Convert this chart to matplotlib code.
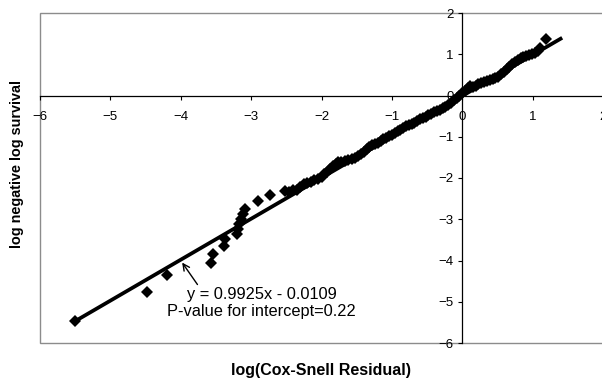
import numpy as np
import matplotlib
matplotlib.use("Agg")
import matplotlib.pyplot as plt
from matplotlib.patches import Rectangle

plt.rcParams['font.family'] = ['Liberation Sans', 'DejaVu Sans']

# residual points: log(Cox-Snell residual), log(-log S)
res_x = [-5.50, -4.48, -4.19, -3.57, -3.54, -3.38, -3.37, -3.20, -3.18, -3.17,
         -3.15, -3.12, -3.08, -2.90, -2.73, -2.52, -2.46,
         -2.40, -2.35, -2.30, -2.25, -2.20, -2.15, -2.10, -2.05, -2.00, -1.96,
         -1.92, -1.88, -1.84, -1.80, -1.76, -1.72, -1.67, -1.62, -1.57, -1.52,
         -1.48, -1.44, -1.40, -1.36, -1.32, -1.28, -1.24, -1.20, -1.16, -1.12,
         -1.08, -1.04, -1.00, -0.96, -0.92, -0.88, -0.84, -0.80, -0.76, -0.72,
         -0.68, -0.64, -0.60, -0.56, -0.52, -0.48, -0.44, -0.40, -0.36, -0.32,
         -0.28, -0.24, -0.20, -0.16, -0.12, -0.08, -0.04, 0.00, 0.04, 0.08,
         0.11, 0.15, 0.19, 0.23, 0.27, 0.31, 0.35, 0.39, 0.43, 0.47,
         0.51, 0.55, 0.59, 0.63, 0.67, 0.71, 0.75, 0.79, 0.83, 0.87,
         0.91, 0.95, 0.99, 1.03, 1.07, 1.11, 1.19]
res_y = [-5.46, -4.77, -4.35, -4.07, -3.84, -3.65, -3.49, -3.36, -3.24, -3.12,
         -3.00, -2.88, -2.76, -2.55, -2.41, -2.31, -2.33,
         -2.30, -2.28, -2.22, -2.15, -2.12, -2.09, -2.05, -2.02, -1.97, -1.91,
         -1.85, -1.78, -1.72, -1.66, -1.62, -1.60, -1.58, -1.57, -1.55, -1.52,
         -1.47, -1.41, -1.36, -1.30, -1.24, -1.20, -1.17, -1.14, -1.10, -1.06,
         -1.02, -0.99, -0.95, -0.91, -0.87, -0.83, -0.79, -0.75, -0.72, -0.69,
         -0.66, -0.62, -0.58, -0.55, -0.51, -0.47, -0.44, -0.41, -0.38, -0.35,
         -0.31, -0.27, -0.22, -0.17, -0.12, -0.06, 0.00, 0.05, 0.10, 0.17,
         0.22, 0.20, 0.24, 0.27, 0.30, 0.33, 0.35, 0.37, 0.39, 0.42,
         0.46, 0.52, 0.58, 0.64, 0.70, 0.76, 0.81, 0.86, 0.90, 0.94,
         0.96, 0.98, 1.00, 1.04, 1.08, 1.15, 1.37]

# fitted line
slope = 0.9925
intercept = -0.0109
fit_x = [-5.50, 1.42]

x_ticks = [-6, -5, -4, -3, -2, -1, 0, 1, 2]
y_ticks = [-6, -5, -4, -3, -2, -1, 0, 1, 2]

fig = plt.figure(figsize=(6.02, 3.81), dpi=100)
ax = fig.add_axes([40 / 602, 38 / 381, 563 / 602, 330 / 381])

ax.plot(res_x, res_y, linestyle='none', marker='D', markersize=6.3,
        color='black', markeredgewidth=0)
fx = np.array(fit_x)
ax.plot(fx, slope * fx + intercept, color='black', linewidth=2.7,
        solid_capstyle='butt')

ax.set_xlim(-6, 2)
ax.set_ylim(-6, 2)
ax.set_xticks(x_ticks)
ax.set_yticks(y_ticks)

# Excel style axes crossing at the origin
ax.spines['left'].set_position(('data', 0))
ax.spines['bottom'].set_position(('data', 0))
ax.spines['top'].set_visible(False)
ax.spines['right'].set_visible(False)
for s in ('left', 'bottom'):
    ax.spines[s].set_linewidth(0.9)
    ax.spines[s].set_color('black')
ax.add_patch(Rectangle((0, 0), 1, 1, transform=ax.transAxes, fill=False,
                       edgecolor='#8c8c8c', linewidth=1.0, clip_on=False,
                       zorder=0))

ax.tick_params(axis='x', direction='out', length=3, width=0.8, pad=8,
               labelsize=9.5)
ax.tick_params(axis='y', direction='out', length=3, width=0.8, pad=3,
               labelsize=9.5)

ax.annotate('y = 0.9925x - 0.0109\nP-value for intercept=0.22',
            xy=(-3.98, -4.05), xytext=(-2.85, -4.65),
            ha='center', va='top', fontsize=11.8, linespacing=1.1,
            arrowprops=dict(arrowstyle='->', color='black', lw=1.0,
                            shrinkA=0, shrinkB=0,
                            relpos=(0.17, 1.0)))

fig.text(321 / 602, 1 - 370 / 381, 'log(Cox-Snell Residual)', ha='center',
         va='center', fontsize=11.5, fontweight='bold')
fig.text(17 / 602, 1 - 164 / 381, 'log negative log survival', ha='center',
         va='center', rotation=90, fontsize=10.4, fontweight='bold')

fig.savefig('out.png', dpi=100)
